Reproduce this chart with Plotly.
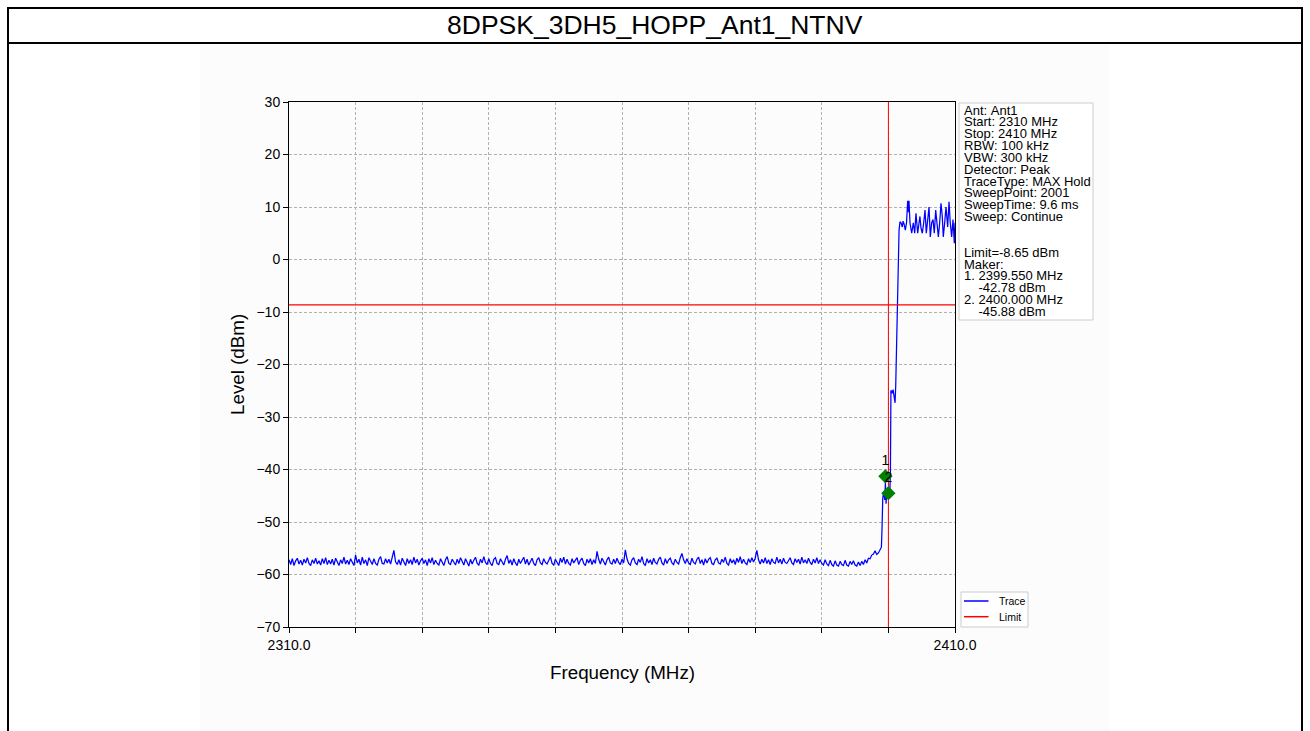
import plotly.graph_objects as go

# ---------------- data ----------------
floor_start = 2310.0
floor_step = 0.25
floor_levels = [
    -57.2, -58.1, -57.0, -58.3, -57.4, -56.9, -58.0, -57.3, -58.2, -57.1, -57.8, -56.8, -57.9, -58.3, -57.2, -57.9, -56.9, -58.0, -57.4, -58.2,
    -57.0, -57.9, -56.8, -58.1, -57.3, -58.0, -57.1, -58.2, -56.9, -57.7, -58.3, -57.2, -57.9, -56.7, -58.0, -57.3, -58.1, -57.0, -57.8, -58.3,
    -56.3, -57.8, -57.1, -58.2, -56.7, -57.9, -57.2, -58.3, -56.8, -57.6, -58.1, -57.0, -57.9, -58.2, -57.1, -56.6, -57.9, -58.0, -57.0, -57.8,
    -57.1, -58.0, -56.8, -55.4, -57.6, -58.1, -57.2, -58.2, -56.9, -57.8, -58.3, -57.0, -57.9, -57.2, -58.1, -56.7, -57.8, -57.1, -58.2, -57.4,
    -56.9, -57.9, -57.2, -58.3, -57.0, -57.8, -56.8, -58.1, -57.3, -57.9, -58.2, -57.0, -57.7, -58.3, -57.2, -56.6, -57.9, -58.1, -57.1, -57.8,
    -58.2, -57.1, -57.9, -56.8, -57.7, -58.2, -57.0, -57.9, -58.4, -57.1, -58.0, -57.3, -56.7, -57.9, -58.2, -57.1, -57.8, -56.6, -57.7, -58.1,
    -57.0, -57.9, -58.3, -57.1, -56.8, -57.9, -58.1, -57.0, -57.7, -58.2, -57.1, -56.4, -57.9, -57.2, -58.2, -57.0, -57.8, -58.3, -57.1, -57.9,
    -57.3, -56.7, -58.0, -57.1, -58.2, -57.6, -56.9, -57.9, -58.3, -57.2, -56.8, -57.8, -58.1, -57.0, -57.7, -58.0, -57.1, -56.6, -57.9, -58.2,
    -57.1, -57.8, -58.3, -56.9, -57.7, -56.7, -58.0, -57.1, -57.9, -58.2, -57.0, -57.8, -57.2, -56.8, -58.1, -57.3, -56.9, -57.9, -58.3, -57.1,
    -57.8, -57.0, -58.1, -57.2, -57.9, -55.6, -57.1, -58.0, -56.9, -57.7, -58.2, -57.2, -56.7, -57.8, -58.0, -57.1, -57.9, -56.9, -57.7, -58.1,
    -57.1, -57.8, -55.3, -57.0, -57.9, -58.2, -57.2, -56.8, -57.8, -58.1, -57.1, -57.7, -56.6, -57.9, -58.3, -57.0, -57.8, -57.2, -58.1, -56.9,
    -57.7, -58.0, -57.1, -56.7, -57.8, -58.2, -57.0, -57.9, -57.2, -56.9, -57.8, -58.1, -57.1, -57.7, -58.0, -56.8, -56.0, -57.2, -57.9, -57.0,
    -57.8, -58.1, -56.9, -57.7, -58.0, -57.1, -56.7, -57.9, -57.2, -58.2, -57.0, -57.8, -57.1, -56.8, -57.9, -58.1, -57.2, -56.9, -57.8, -58.0,
    -57.1, -57.7, -56.7, -57.9, -58.2, -57.0, -57.8, -57.2, -58.1, -56.9, -57.7, -56.6, -57.9, -57.1, -57.8, -58.1, -57.0, -57.7, -56.8, -57.6,
    -56.9, -55.4, -57.2, -58.0, -57.1, -57.8, -56.8, -57.9, -57.2, -58.1, -57.0, -57.7, -57.9, -56.7, -57.8, -57.1, -58.0, -56.9, -57.7, -57.9,
    -57.2, -56.8, -57.8, -58.1, -57.0, -57.7, -57.1, -58.0, -56.7, -57.8, -57.2, -57.9, -56.9, -57.7, -58.1, -57.1, -57.8, -56.8, -57.9, -57.2,
    -57.9, -58.2, -57.2, -58.0, -58.3, -57.3, -58.1, -58.4, -57.4, -58.2, -58.4, -57.5, -58.1, -58.3, -57.3, -58.2, -58.4, -57.5, -58.1, -57.4,
    -58.2, -58.4, -57.6, -58.3, -57.5, -58.1, -57.2, -57.8, -56.9, -57.0, -56.3, -56.1, -55.5,
]

edge_freq = [2398.25, 2398.5, 2398.75, 2398.95, 2399.05, 2399.15, 2399.3, 2399.45, 2399.55,
             2399.65, 2399.75, 2399.85, 2400.0, 2400.1, 2400.2, 2400.3, 2400.38, 2400.55,
             2400.7, 2400.85, 2401.0, 2401.1, 2401.3, 2401.45, 2401.6]
edge_level = [-56.2, -55.9, -55.3, -54.8, -51.0, -45.5, -44.2, -45.8, -42.5,
              -46.5, -44.0, -45.5, -44.6, -43.5, -45.0, -40.5, -24.9, -25.5,
              -24.8, -26.0, -27.3, -24.0, -12.0, 2.2, 5.6]

band_freq = [2401.74, 2401.89, 2402.09, 2402.2, 2402.35, 2402.54, 2402.72, 2402.9, 2403.02,
             2403.09, 2403.24, 2403.5, 2403.74, 2403.95, 2404.14, 2404.4, 2404.6, 2404.74,
             2404.89, 2405.09, 2405.3, 2405.5, 2405.69, 2405.9, 2406.1, 2406.29, 2406.5,
             2406.7, 2406.89, 2407.1, 2407.3, 2407.5, 2407.7, 2407.9, 2408.09, 2408.24,
             2408.45, 2408.65, 2408.9, 2409.1, 2409.29, 2409.5, 2409.7, 2409.9, 2410.0]
band_level = [7.2, 7.0, 6.2, 7.3, 6.8, 5.6, 7.0, 11.2, 9.0,
              11.2, 7.0, 5.0, 7.0, 5.0, 8.8, 5.0, 7.0, 8.2,
              6.0, 5.0, 7.0, 9.4, 5.0, 7.0, 10.0, 4.3, 7.0,
              7.6, 5.0, 9.4, 6.2, 4.3, 7.0, 10.7, 8.2, 4.3,
              7.0, 10.0, 6.2, 11.0, 7.0, 4.3, 7.6, 3.1, 7.0]

limit_level = -8.65
limit_span = [2310.0, 2410.0]
edge_line_freq = 2400.0

marker_freq = [2399.55, 2400.0]
marker_level = [-41.3, -44.5]
marker_labels = ["1", "2"]

y_tick_values = [30, 20, 10, 0, -10, -20, -30, -40, -50, -60, -70]
x_tick_values = [2310, 2320, 2330, 2340, 2350, 2360, 2370, 2380, 2390, 2400, 2410]
x_tick_text = ["2310.0", "", "", "", "", "", "", "", "", "", "2410.0"]

title_text = "8DPSK_3DH5_HOPP_Ant1_NTNV"
x_title = "Frequency (MHz)"
y_title = "Level (dBm)"

info_lines = [
    "Ant: Ant1", "Start: 2310 MHz", "Stop: 2410 MHz", "RBW: 100 kHz", "VBW: 300 kHz",
    "Detector: Peak", "TraceType: MAX Hold", "SweepPoint: 2001", "SweepTime: 9.6 ms",
    "Sweep: Continue", "", "", "Limit=-8.65 dBm", "Maker:", "1. 2399.550 MHz",
    "    -42.78 dBm", "2. 2400.000 MHz", "    -45.88 dBm",
]
legend_names = ["Trace", "Limit"]
legend_colors = ["#0000ff", "#ff0000"]

# ---------------- layout geometry (pixels) ----------------
W, H = 1310, 731
PL, PR, PT, PB = 289, 955, 102, 627
FONT = "Liberation Sans, Arial, sans-serif"


def xp(px):
    return (px - PL) / (PR - PL)


def yp(py):
    return (PB - py) / (PB - PT)


trace_freq = [floor_start + i * floor_step for i in range(len(floor_levels))] + edge_freq + band_freq
trace_level = floor_levels + edge_level + band_level

fig = go.Figure()
fig.add_trace(go.Scatter(x=trace_freq, y=trace_level, mode="lines",
                         line=dict(color=legend_colors[0], width=1.25), name=legend_names[0],
                         showlegend=False, hoverinfo="skip"))
fig.add_trace(go.Scatter(x=limit_span, y=[limit_level, limit_level], mode="lines",
                         line=dict(color=legend_colors[1], width=1.2), name=legend_names[1],
                         showlegend=False, hoverinfo="skip"))
fig.add_trace(go.Scatter(x=[edge_line_freq, edge_line_freq], y=[-70, 30], mode="lines",
                         line=dict(color=legend_colors[1], width=1), showlegend=False,
                         hoverinfo="skip"))
fig.add_trace(go.Scatter(x=marker_freq, y=marker_level, mode="markers",
                         marker=dict(symbol="diamond", size=11, color="#008000"),
                         showlegend=False, hoverinfo="skip"))
# marker numbers drawn as a separate layer on top of the diamonds
fig.add_trace(go.Scatter(x=marker_freq, y=marker_level, mode="markers+text",
                         marker=dict(symbol="diamond", size=11, color="rgba(0,0,0,0)"),
                         text=marker_labels, textposition="top center",
                         textfont=dict(size=14, color="black", family=FONT),
                         showlegend=False, hoverinfo="skip"))

shapes = []
annotations = []

# faint figure panel
shapes.append(dict(type="rect", xref="paper", yref="paper", x0=xp(200), x1=xp(1110),
                   y0=yp(731), y1=yp(45), fillcolor="#fcfcfc", line=dict(width=0),
                   layer="below"))
# outer frame and title separator
for (x0, y0, x1, y1) in [(7, 8, 1303, 8), (7, 43, 1303, 43), (8, 8, 8, 731), (1302, 8, 1302, 731)]:
    shapes.append(dict(type="line", xref="paper", yref="paper", x0=xp(x0), x1=xp(x1),
                       y0=yp(y0), y1=yp(y1), line=dict(color="black", width=2)))

annotations.append(dict(text=title_text, xref="paper", yref="paper", x=xp(655), y=yp(25),
                        showarrow=False, font=dict(size=26.5, family=FONT, color="black"),
                        xanchor="center", yanchor="middle"))
annotations.append(dict(text=x_title, xref="paper", yref="paper", x=xp(622), y=yp(672),
                        showarrow=False, font=dict(size=18.8, family=FONT, color="black"),
                        xanchor="center", yanchor="middle"))
annotations.append(dict(text=y_title, xref="paper", yref="paper", x=xp(237), y=yp(365),
                        showarrow=False, textangle=-90,
                        font=dict(size=18.8, family=FONT, color="black"),
                        xanchor="center", yanchor="middle"))

# info box
shapes.append(dict(type="rect", xref="paper", yref="paper", x0=xp(959), x1=xp(1093),
                   y0=yp(320), y1=yp(103), line=dict(color="#cccccc", width=1),
                   fillcolor="white"))
line_h = 11.85
for i, txt in enumerate(info_lines):
    if not txt:
        continue
    annotations.append(dict(text=txt.replace(" ", "\u00a0"), xref="paper", yref="paper",
                            x=xp(962.5), y=yp(110 + i * line_h), showarrow=False,
                            xanchor="left", yanchor="middle", borderpad=0,
                            font=dict(size=13, family=FONT, color="black")))

# legend box
shapes.append(dict(type="rect", xref="paper", yref="paper", x0=xp(961), x1=xp(1028),
                   y0=yp(627), y1=yp(592), line=dict(color="#cccccc", width=1),
                   fillcolor="white"))
for i, (name, col) in enumerate(zip(legend_names, legend_colors)):
    yy = 601 + i * 15.7
    shapes.append(dict(type="line", xref="paper", yref="paper", x0=xp(964), x1=xp(988.5),
                       y0=yp(yy), y1=yp(yy), line=dict(color=col, width=1.5)))
    annotations.append(dict(text=name, xref="paper", yref="paper", x=xp(996.5), y=yp(yy),
                            showarrow=False, xanchor="left", yanchor="middle",
                            font=dict(size=10.5, family=FONT, color="black")))

fig.update_layout(
    width=W, height=H, autosize=False,
    margin=dict(l=PL, r=W - PR, t=PT, b=H - PB, pad=0),
    paper_bgcolor="white", plot_bgcolor="white",
    font=dict(family=FONT, color="black"),
    shapes=shapes, annotations=annotations, showlegend=False,
)
fig.update_xaxes(range=[2310, 2410], tickmode="array", tickvals=x_tick_values,
                 ticktext=x_tick_text, ticks="outside", ticklen=5, tickcolor="black",
                 tickfont=dict(size=14, family=FONT, color="black"),
                 showgrid=True, gridcolor="#b0b0b0", gridwidth=0.8, griddash="3px,2px",
                 showline=True, linecolor="black", linewidth=1, mirror=True, zeroline=False)
fig.update_yaxes(range=[-70, 30], tickmode="array", tickvals=y_tick_values,
                 ticks="outside", ticklen=5, tickcolor="black",
                 tickfont=dict(size=14, family=FONT, color="black"),
                 showgrid=True, gridcolor="#b0b0b0", gridwidth=0.8, griddash="3px,2px",
                 showline=True, linecolor="black", linewidth=1, mirror=True, zeroline=False)

fig.write_html("out.html", config={"displayModeBar": False},
               post_script="document.body.style.margin='0px';document.body.style.padding='0px';")
